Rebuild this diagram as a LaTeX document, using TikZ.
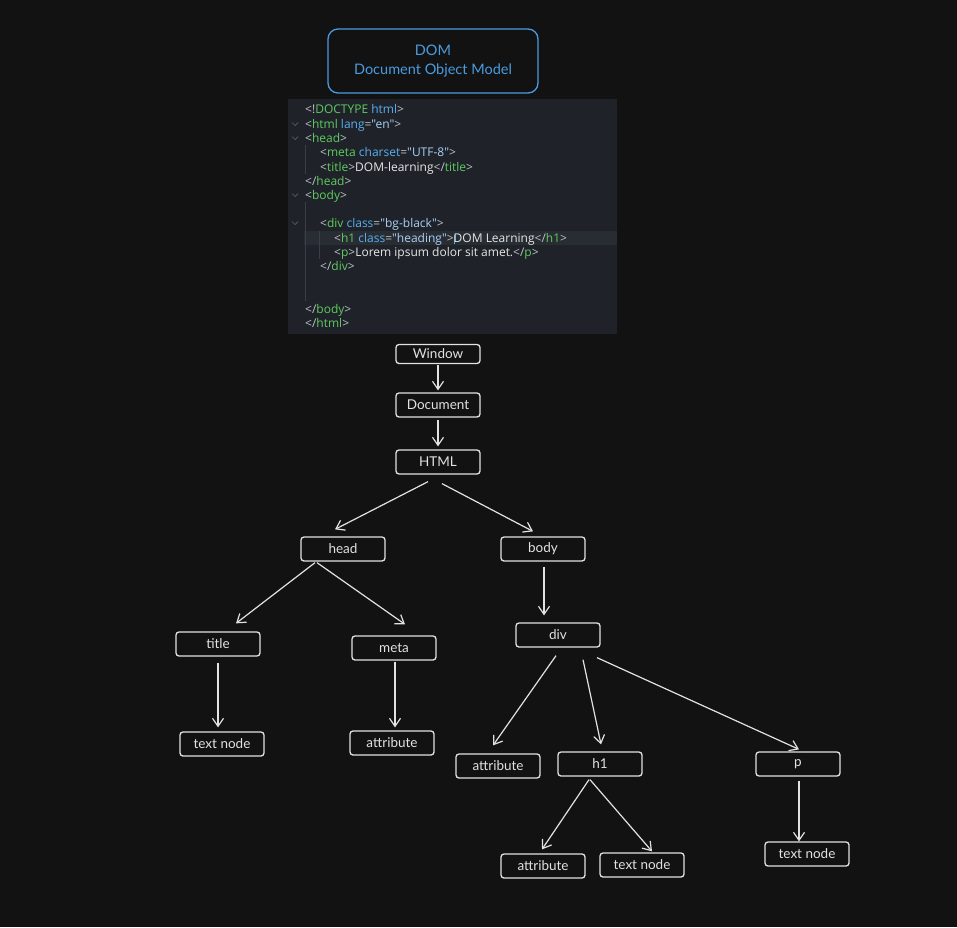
\documentclass[tikz,border=0pt]{standalone}
\usepackage{fontspec}
\setmainfont{Lato}
\newfontfamily\codefont{Open Sans}
\usetikzlibrary{arrows.meta}

\definecolor{bgdark}{HTML}{121212}
\definecolor{codebg}{HTML}{1F2329}
\definecolor{rowhl}{HTML}{282C33}
\definecolor{domblue}{HTML}{4A9BE0}
\definecolor{sketch}{HTML}{E2E2E2}
\definecolor{tagcol}{HTML}{5FCB5F}
\definecolor{attrcol}{HTML}{5AAEF0}
\definecolor{strcol}{HTML}{A9D0F5}
\definecolor{punct}{HTML}{BFC3C8}
\definecolor{plain}{HTML}{E6E6E6}
\definecolor{guide}{HTML}{3A3F47}
\definecolor{foldmark}{HTML}{5A606A}

% code colouring
\newcommand{\pc}[1]{\textcolor{punct}{#1}}
\newcommand{\tg}[1]{\textcolor{tagcol}{#1}}
\newcommand{\ak}[1]{\textcolor{attrcol}{#1}}
\newcommand{\sv}[1]{\textcolor{strcol}{#1}}

\begin{document}
\begin{tikzpicture}[x=1pt,y=-1pt,
    sknode/.style={rectangle,draw=sketch,line width=1.3pt,rounded corners=3pt,
                   minimum width=84pt,minimum height=24pt,inner sep=0pt,
                   text=sketch,font=\fontsize{13.5}{15}\selectfont},
    arr/.style={-{Straight Barb[length=8pt,width=11pt]},draw=sketch,line width=1.2pt},
    codeline/.style={anchor=west,inner sep=0pt,text=plain,text height=1.5ex,text depth=.3ex,
                     yshift=-1.5pt,font=\codefont\fontsize{12}{14}\selectfont}]
% canvas
\fill[bgdark] (0,0) rectangle (957,927);
\useasboundingbox (0,0) rectangle (957,927);

% heading box
\node[rectangle,draw=domblue,line width=1.3pt,rounded corners=10pt,minimum width=210pt,
      minimum height=64pt,align=center,text=domblue,font=\fontsize{14.5}{19}\selectfont]
      (dom) at (433,61) {DOM\\Document Object Model};

% code editor
\fill[codebg] (288,99) rectangle (617,334);
\fill[rowhl] (304,231) rectangle (617,245);
\draw[guide,line width=.8pt] (305.5,145) -- (305.5,174);
\draw[guide,line width=.8pt] (305.5,202) -- (305.5,301);
\draw[guide,line width=.8pt] (319.5,231) -- (319.5,259);
\foreach \y in {124,138,195,223}
    \draw[foldmark,line width=.7pt] (292,\y-1.5) -- (295,\y+1.5) -- (298,\y-1.5);

\node[codeline] (l1)  at (305,109) {\pc{<!}\tg{DOCTYPE} \ak{html}\pc{>}};
\node[codeline] (l2)  at (305,124) {\pc{<}\tg{html} \ak{lang}\pc{=}\sv{"en"}\pc{>}};
\node[codeline] (l3)  at (305,138) {\pc{<}\tg{head}\pc{>}};
\node[codeline] (l4)  at (320,152) {\pc{<}\tg{meta} \ak{charset}\pc{=}\sv{"UTF-8"}\pc{>}};
\node[codeline] (l5)  at (320,167) {\pc{<}\tg{title}\pc{>}DOM-learning\pc{</}\tg{title}\pc{>}};
\node[codeline] (l6)  at (305,181) {\pc{</}\tg{head}\pc{>}};
\node[codeline] (l7)  at (305,195) {\pc{<}\tg{body}\pc{>}};
\node[codeline] (l8)  at (320,223) {\pc{<}\tg{div} \ak{class}\pc{=}\sv{"bg-black"}\pc{>}};
\node[codeline] (l9)  at (334,238) {\pc{<}\tg{h1} \ak{class}\pc{=}\sv{"heading"}\pc{>}\textcolor{attrcol}{\kern.3pt\vrule width .8pt\kern-1.1pt}DOM Learning\pc{</}\tg{h1}\pc{>}};
\node[codeline] (l10) at (334,252) {\pc{<}\tg{p}\pc{>}Lorem ipsum dolor sit amet.\pc{</}\tg{p}\pc{>}};
\node[codeline] (l11) at (320,266) {\pc{</}\tg{div}\pc{>}};
\node[codeline] (l12) at (305,309) {\pc{</}\tg{body}\pc{>}};
\node[codeline] (l13) at (305,323) {\pc{</}\tg{html}\pc{>}};

% DOM tree
\node[sknode,minimum height=19pt] (win) at (438,354) {Window};
\foreach \name/\x/\y/\text in {doc/438/405/Document, html/438/462/HTML,
                               head/343/549/head, body/543/549/body,
                               title/218/644/title, meta/394/648/meta, div/558/635/div,
                               tnA/222/744/text node, atA/392/743/attribute,
                               atB/498/766/attribute, hone/600/764/h1, para/798/764/p,
                               atC/543/866/attribute, tnB/642/865/text node, tnC/807/854/text node}
    \node[sknode] (\name) at (\x,\y) {\text};

% edges
\draw[arr] ([shift={(0,1)}]win.south) -- ([shift={(0,-2)}]doc.north);
\draw[arr] ([shift={(0,2)}]doc.south) -- ([shift={(0,-3)}]html.north);
\draw[arr] ([shift={(-10,7)}]html.south) -- ([shift={(-8,-7)}]head.north);
\draw[arr] ([shift={(4,9)}]html.south) -- ([shift={(-10,-5)}]body.north);
\draw[arr] ([shift={(-28,1)}]head.south) -- ([shift={(18,-8)}]title.north);
\draw[arr] ([shift={(-26,1)}]head.south) -- ([shift={(11,-11)}]meta.north);
\draw[arr] ([shift={(0,6)}]title.south) -- ([shift={(-4,-4)}]tnA.north);
\draw[arr] ([shift={(1,1)}]meta.south) -- ([shift={(3,-3)}]atA.north);
\draw[arr] ([shift={(1,5)}]body.south) -- ([shift={(-14,-7)}]div.north);
\draw[arr] ([shift={(-2,8)}]div.south) -- ([shift={(-5,-8)}]atB.north);
\draw[arr] ([shift={(25,12)}]div.south) -- ([shift={(1,-7)}]hone.north);
\draw[arr] ([shift={(39,10)}]div.south) -- ([shift={(1,-2)}]para.north);
\draw[arr] ([shift={(-11,3)}]hone.south) -- ([shift={(-1,-4)}]atC.north);
\draw[arr] ([shift={(-10,3)}]hone.south) -- ([shift={(10,-1)}]tnB.north);
\draw[arr] ([shift={(1,4)}]para.south) -- ([shift={(-8,0)}]tnC.north);
\end{tikzpicture}
\end{document}
